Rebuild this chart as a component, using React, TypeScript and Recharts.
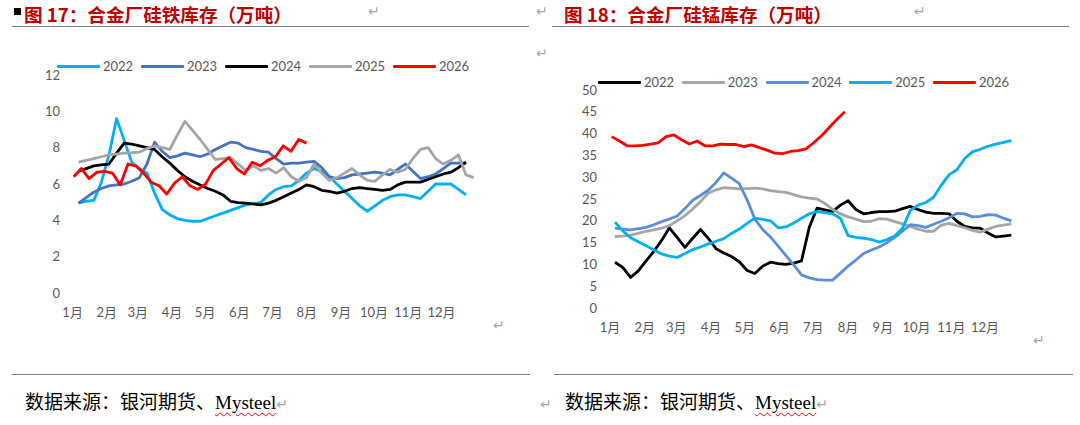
import React from 'react';
import { LineChart, Line, XAxis, YAxis } from 'recharts';

// month axis (day of year at which each month starts)
const MONTHS = ['1月', '2月', '3月', '4月', '5月', '6月', '7月', '8月', '9月', '10月', '11月', '12月'];
const MONTH_START_DAYS = [0, 31, 59, 90, 120, 151, 181, 212, 243, 273, 304, 334];

const SIFE_TICKS = [0, 2, 4, 6, 8, 10, 12];
const SIMN_TICKS = [0, 5, 10, 15, 20, 25, 30, 35, 40, 45, 50];

// 图17 硅铁库存 (万吨), weekly
const sife2022 = [4.95, 5.05, 5.1, 6.1, 7.6, 9.6, 8.4, 7.2, 6.85, 6.6, 5.5, 4.6, 4.3, 4.1, 4.0, 3.95, 3.95, 4.1, 4.25, 4.4, 4.55, 4.7, 4.85, 4.9, 5.0, 5.4, 5.7, 5.85, 5.9, 6.2, 6.6, 6.85, 6.7, 6.4, 6.0, 5.6, 5.2, 4.8, 4.5, 4.8, 5.1, 5.3, 5.4, 5.4, 5.3, 5.2, 5.6, 6.0, 6.0, 6.0, 5.7, 5.4];
const sife2023 = [4.95, 5.25, 5.55, 5.75, 5.9, 5.95, 6.0, 6.15, 6.35, 7.1, 8.3, 7.8, 7.45, 7.55, 7.7, 7.6, 7.5, 7.65, 7.9, 8.1, 8.3, 8.25, 8.0, 7.9, 7.8, 7.75, 7.4, 7.1, 7.15, 7.15, 7.2, 7.25, 6.9, 6.4, 6.3, 6.35, 6.5, 6.55, 6.6, 6.65, 6.6, 6.5, 6.8, 7.1, 6.7, 6.3, 6.4, 6.55, 6.85, 7.15, 7.15, 7.15];
const sife2024 = [6.7, 6.85, 7.0, 7.05, 7.1, 7.7, 8.25, 8.2, 8.1, 8.0, 7.9, 7.5, 7.15, 6.75, 6.4, 6.15, 5.95, 5.75, 5.6, 5.4, 5.05, 4.97, 4.95, 4.9, 4.85, 4.95, 5.1, 5.3, 5.5, 5.7, 5.95, 5.85, 5.65, 5.6, 5.5, 5.6, 5.75, 5.8, 5.75, 5.7, 5.65, 5.7, 5.95, 6.1, 6.1, 6.1, 6.25, 6.4, 6.55, 6.65, 6.9, 7.2];
const sife2025 = [7.2, 7.3, 7.4, 7.5, 7.6, 7.65, 7.7, 7.72, 7.75, 7.95, 8.1, 8.0, 7.9, 8.7, 9.45, 8.95, 8.45, 7.9, 7.35, 7.4, 7.45, 7.1, 6.75, 7.0, 6.75, 6.85, 6.6, 6.9, 6.4, 6.15, 6.35, 7.1, 6.6, 6.2, 6.35, 6.6, 6.85, 6.5, 6.2, 6.15, 6.5, 6.8, 6.65, 6.8, 7.4, 7.9, 8.0, 7.4, 7.1, 7.3, 7.6, 6.5, 6.35];
const sife2026 = [6.4, 6.85, 6.3, 6.65, 6.7, 6.6, 5.95, 7.1, 7.0, 6.6, 6.1, 5.9, 5.45, 6.05, 6.4, 5.9, 5.7, 6.0, 6.75, 7.1, 7.45, 6.85, 6.55, 7.2, 7.0, 7.3, 7.5, 8.1, 7.8, 8.45, 8.25];

// 图18 硅锰库存 (万吨), weekly
const simn2022 = [10.5, 9.3, 7.0, 8.5, 10.8, 13.0, 15.5, 18.4, 16.2, 13.9, 16.0, 18.0, 16.0, 13.6, 12.6, 11.8, 10.6, 8.6, 7.9, 9.6, 10.5, 10.2, 10.0, 10.3, 10.8, 18.5, 22.9, 22.5, 22.1, 23.6, 24.6, 22.6, 21.6, 21.9, 22.1, 22.1, 22.2, 22.8, 23.3, 22.6, 22.0, 21.7, 21.7, 21.6, 19.9, 18.7, 18.4, 18.3, 17.2, 16.3, 16.5, 16.7];
const simn2023 = [16.4, 16.5, 16.7, 17.1, 17.6, 17.9, 18.3, 18.9, 20.0, 21.2, 22.7, 24.4, 26.3, 27.1, 27.6, 27.5, 27.3, 27.4, 27.5, 27.3, 26.9, 26.7, 26.5, 26.0, 25.5, 25.2, 25.0, 24.0, 22.6, 21.6, 20.9, 20.4, 19.8, 19.9, 20.5, 20.4, 19.8, 19.3, 18.7, 18.1, 17.6, 17.6, 19.0, 19.4, 18.9, 18.4, 17.8, 17.4, 18.1, 18.7, 19.0, 19.3];
const simn2024 = [18.3, 18.1, 17.9, 18.2, 18.5, 19.1, 19.8, 20.4, 21.1, 22.8, 24.7, 25.8, 27.0, 28.8, 31.0, 29.8, 28.5, 24.8, 20.4, 18.0, 16.3, 14.2, 12.0, 9.9, 7.6, 6.9, 6.5, 6.4, 6.4, 8.0, 9.6, 11.0, 12.5, 13.3, 14.0, 15.0, 16.2, 17.6, 19.1, 18.9, 18.5, 19.2, 19.9, 20.7, 21.7, 21.6, 20.9, 21.0, 21.4, 21.3, 20.6, 20.0];
const simn2025 = [19.7, 17.7, 16.1, 15.2, 14.3, 13.3, 12.4, 11.9, 11.6, 12.5, 13.4, 14.0, 14.7, 15.3, 15.9, 17.1, 18.1, 19.4, 20.6, 20.3, 20.0, 18.4, 18.6, 19.5, 20.6, 21.6, 22.1, 21.9, 21.6, 20.6, 16.6, 16.2, 16.0, 15.7, 15.1, 15.7, 16.5, 18.3, 22.4, 23.6, 24.2, 25.4, 28.2, 30.6, 31.7, 34.3, 35.8, 36.4, 37.1, 37.6, 38.0, 38.4];
const simn2026 = [39.3, 38.3, 37.2, 37.2, 37.3, 37.6, 37.9, 39.3, 39.7, 38.6, 37.6, 38.3, 37.2, 37.2, 37.6, 37.5, 37.5, 37.0, 37.4, 36.8, 36.2, 35.5, 35.4, 35.9, 36.1, 36.5, 37.9, 39.5, 41.4, 43.3, 45.0];

type Series = { name: string; color: string; values: number[]; start: number; step: number };

// start = day of year of first week, step = days between readings
const sifeSeries: Series[] = [
  { name: '2022', color: '#00B0F0', values: sife2022, start: 5.4, step: 6.88 },
  { name: '2023', color: '#4472C4', values: sife2023, start: 5.4, step: 6.88 },
  { name: '2024', color: '#000000', values: sife2024, start: 5.4, step: 6.88 },
  { name: '2025', color: '#A5A5A5', values: sife2025, start: 5.4, step: 6.88 },
  { name: '2026', color: '#FF0000', values: sife2026, start: 0.9, step: 7.03 },
];

const simnSeries: Series[] = [
  { name: '2022', color: '#000000', values: simn2022, start: 4.45, step: 6.92 },
  { name: '2023', color: '#A5A5A5', values: simn2023, start: 4.45, step: 6.92 },
  { name: '2024', color: '#5A8ED8', values: simn2024, start: 4.45, step: 6.92 },
  { name: '2025', color: '#00B0F0', values: simn2025, start: 4.45, step: 6.92 },
  { name: '2026', color: '#FF0000', values: simn2026, start: 1.5, step: 6.92 },
];

const NUM_FONT = "Lato, 'Noto Sans CJK SC', sans-serif";
const CJK_FONT = "'Noto Sans CJK SC', sans-serif";
const FOOT_FONT = "'Liberation Serif', 'Noto Sans CJK SC', serif";
const LABEL = '#595959';

const toRows = (s: Series) => s.values.map((v, i) => ({ day: s.start + i * s.step, v }));

function Panel({
  series, width, height, yWidth, yMargin, marginRight, top, xDomain, yDomain, yTicks,
}: {
  series: Series[]; width: number; height: number; yWidth: number; yMargin: number;
  marginRight: number; top: number; xDomain: [number, number]; yDomain: [number, number]; yTicks: number[];
}) {
  const tick = { fill: LABEL, fontSize: 13, fontFamily: NUM_FONT };
  return (
    <LineChart width={width} height={height} margin={{ top, right: marginRight, left: 0, bottom: 17 }}>
      <XAxis
        type="number"
        dataKey="day"
        domain={xDomain}
        ticks={MONTH_START_DAYS}
        interval={0}
        allowDataOverflow
        tickFormatter={(d: number) => MONTHS[MONTH_START_DAYS.indexOf(d)]}
        axisLine={false}
        tickLine={false}
        tickSize={0}
        tickMargin={15}
        height={30}
        tick={tick}
      />
      <YAxis
        type="number"
        domain={yDomain}
        ticks={yTicks}
        interval={0}
        axisLine={false}
        tickLine={false}
        tickSize={0}
        tickMargin={yMargin}
        width={yWidth}
        tick={tick}
      />
      {series.map((s) => (
        <Line
          key={s.name}
          data={toRows(s)}
          dataKey="v"
          type="linear"
          stroke={s.color}
          strokeWidth={2.8}
          strokeLinejoin="round"
          dot={false}
          activeDot={false}
          isAnimationActive={false}
        />
      ))}
    </LineChart>
  );
}

function LegendRow({ series, left, centerY, itemWidth }: { series: Series[]; left: number; centerY: number; itemWidth: number }) {
  return (
    <div style={{ position: 'absolute', left, top: centerY - 9, height: 18, display: 'flex', alignItems: 'center' }}>
      {series.map((s) => (
        <div key={s.name} style={{ width: itemWidth, display: 'flex', alignItems: 'center' }}>
          <span style={{ display: 'inline-block', width: 43, height: 3, background: s.color, borderRadius: 1 }} />
          <span style={{ marginLeft: 3, fontSize: 13, color: LABEL, fontFamily: NUM_FONT, lineHeight: '18px' }}>{s.name}</span>
        </div>
      ))}
    </div>
  );
}

const Ret = ({ x, y }: { x: number; y: number }) => (
  <span style={{ position: 'absolute', left: x - 7, top: y - 9, fontSize: 14, lineHeight: '18px', color: '#A6A6A6', fontFamily: "'DejaVu Sans', sans-serif" }}>↵</span>
);

const Title = ({ left, text, bullet }: { left: number; text: string; bullet?: boolean }) => (
  <>
    {bullet && <div style={{ position: 'absolute', left: 14, top: 8, width: 7, height: 7, background: '#000' }} />}
    <div style={{ position: 'absolute', left, top: 0, fontSize: 18.6, lineHeight: '27px', fontWeight: 700, color: '#C00000', fontFamily: CJK_FONT, whiteSpace: 'nowrap' }}>{text}</div>
  </>
);

const Rule = ({ left, width, top }: { left: number; width: number; top: number }) => (
  <div style={{ position: 'absolute', left, top, width, height: 1.3, background: '#7F7F7F' }} />
);

const Source = ({ left }: { left: number }) => (
  <div style={{ position: 'absolute', left, top: 392, fontSize: 19, lineHeight: '22px', color: '#000', fontFamily: FOOT_FONT, whiteSpace: 'nowrap' }}>
    数据来源：银河期货、
    <span style={{ textDecoration: 'underline wavy #FF0000', textDecorationThickness: 1, textUnderlineOffset: 3 }}>Mysteel</span>
    <span style={{ fontSize: 14, color: '#A6A6A6', fontFamily: "'DejaVu Sans', sans-serif" }}>↵</span>
  </div>
);

export default function App() {
  return (
    <div style={{ position: 'absolute', left: 0, top: 0, width: 1080, height: 425, background: '#fff', overflow: 'hidden' }}>
      <Title left={24} text="图 17：合金厂硅铁库存（万吨）" bullet />
      <Title left={564} text="图 18：合金厂硅锰库存（万吨）" />
      <Rule left={12} width={517} top={26} />
      <Rule left={552} width={517} top={26} />
      <Ret x={375} y={11} />
      <Ret x={543} y={11} />
      <Ret x={921} y={11} />
      <Ret x={543} y={53} />
      <Ret x={500} y={325} />
      <Ret x={1040} y={340} />

      <div style={{ position: 'absolute', left: 0, top: 0 }}>
        <Panel
          series={sifeSeries}
          width={540}
          height={340}
          yWidth={66}
          yMargin={6}
          marginRight={61}
          top={75}
          xDomain={[-6, 368]}
          yDomain={[0, 12]}
          yTicks={SIFE_TICKS}
        />
      </div>
      <div style={{ position: 'absolute', left: 540, top: 0 }}>
        <Panel
          series={simnSeries}
          width={540}
          height={355}
          yWidth={61}
          yMargin={4}
          marginRight={54.5}
          top={90}
          xDomain={[-8, 370]}
          yDomain={[0, 50]}
          yTicks={SIMN_TICKS}
        />
      </div>
      <LegendRow series={sifeSeries} left={57} centerY={66} itemWidth={84} />
      <LegendRow series={simnSeries} left={598} centerY={82} itemWidth={83.75} />

      <Rule left={12} width={518} top={374} />
      <Rule left={554} width={519} top={374} />
      <Source left={25} />
      <Source left={565} />
      <Ret x={547} y={404} />
    </div>
  );
}
